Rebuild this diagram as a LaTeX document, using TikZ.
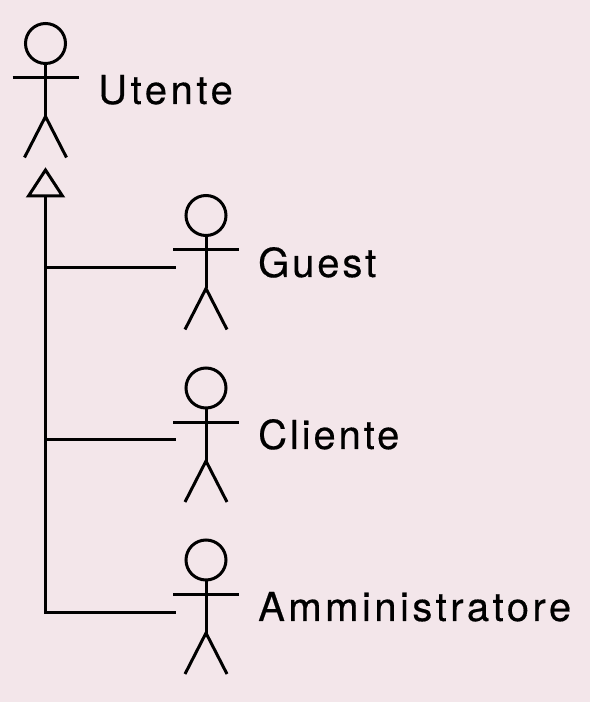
\documentclass[tikz,border=0pt]{standalone}
\usepackage{fontspec}
\setmainfont{TeX Gyre Heros}[FakeBold=0.4]
\definecolor{bgpink}{HTML}{F3E6EA}
\tikzset{
  ln/.style={line width=3pt,black},
  lbl/.style={anchor=base west,inner sep=0pt,font=\fontsize{40pt}{42pt}\selectfont}
}
\newcommand{\actorfig}[1]{%
  \begin{scope}[shift={(#1)}]
   \draw[ln] (0,0) circle (20);
   \draw[ln] (0,-20) -- (0,-73) (-33,-34.5) -- (33,-34.5);
   \draw[ln] (-21,-114) -- (0,-73) -- (21,-114);
  \end{scope}}
\begin{document}
\begin{tikzpicture}[x=1pt,y=1pt]
\useasboundingbox (0,0) rectangle (590,702);
\fill[bgpink] (0,0) rectangle (590,702);
\actorfig{45.5,658.5}
\actorfig{206,486.5}
\actorfig{206,314}
\actorfig{206,142}
\node[lbl] (u) at (98,598) {\addfontfeatures{LetterSpace=9}Utente};
\node[lbl] (g) at (258,425) {\addfontfeatures{LetterSpace=7.2}Guest};
\node[lbl] (c) at (258,253) {\addfontfeatures{LetterSpace=7.2}Cliente};
\node[lbl] (a) at (258,81) {\addfontfeatures{LetterSpace=8.7}Amministratore};
\coordinate (tip) at (45.5,532);
\coordinate (base) at (45.5,506);
\coordinate (bot) at (45.5,89.5);
\coordinate (j1) at (45.5,434.5);
\coordinate (j2) at (45.5,262.5);
\coordinate (e1) at (176,434.5);
\coordinate (e2) at (176,262.5);
\coordinate (e3) at (176,89.5);
\draw[ln,line join=miter] (tip) -- (28.5,506) -- (62.5,506) -- cycle;
\draw[ln] (base) -- (bot) -- (e3);
\draw[ln] (j1) -- (e1);
\draw[ln] (j2) -- (e2);
\end{tikzpicture}
\end{document}
